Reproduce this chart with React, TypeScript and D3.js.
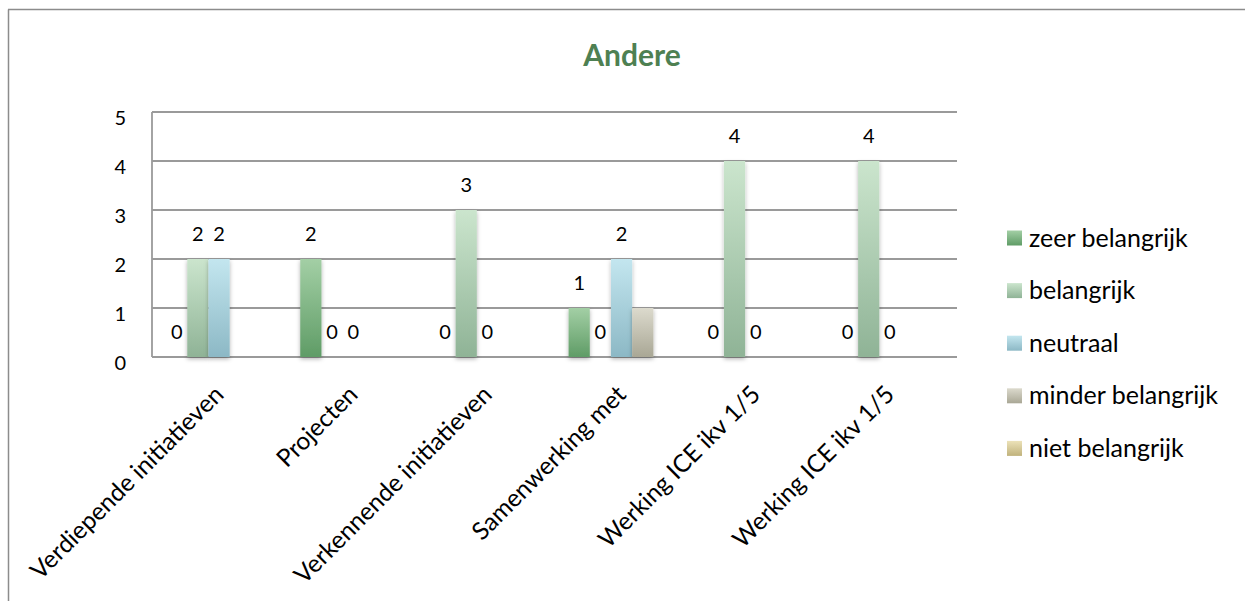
import React from "react";
import * as d3 from "d3";

const categories = [
  "Verdiepende initiatieven",
  "Projecten",
  "Verkennende initiatieven",
  "Samenwerking met",
  "Werking ICE ikv 1/5",
  "Werking ICE ikv 1/5 ",
];
const seriesNames = ["zeer belangrijk", "belangrijk", "neutraal", "minder belangrijk", "niet belangrijk"];
const zeerBelangrijk: (number | null)[] = [0, 2, 0, 1, 0, 0];
const belangrijk: (number | null)[] = [2, 0, 3, 0, 4, 4];
const neutraal: (number | null)[] = [2, 0, 0, 2, 0, 0];
const minderBelangrijk: (number | null)[] = [null, null, null, 1, null, null];
const nietBelangrijk: (number | null)[] = [null, null, null, null, null, null];
const showLabels = [true, true, true, false, false];
const yTicks = [0, 1, 2, 3, 4, 5];
const title = "Andere";

const seriesValues = [zeerBelangrijk, belangrijk, neutraal, minderBelangrijk, nietBelangrijk];
const gradients = [
  ["#a3cfa5", "#5f9c66"],
  ["#cbe5cd", "#8fb396"],
  ["#c3e6ef", "#8cb8c5"],
  ["#dcdacd", "#a9a795"],
  ["#ece2b8", "#c0b27c"],
];

const FONT = "Lato, 'Open Sans', sans-serif";

export default function App() {
  const W = 1245;
  const H = 601;
  const plot = { left: 152, right: 957, top: 112, bottom: 357 };

  const x0 = d3
    .scaleBand<string>()
    .domain(categories)
    .range([plot.left, plot.right])
    .paddingInner(0.21)
    .paddingOuter(0.105);
  const x1 = d3
    .scaleBand<string>()
    .domain(seriesNames)
    .range([0, x0.bandwidth()]);
  const y = d3.scaleLinear().domain([0, 5]).range([plot.bottom, plot.top]);

  const legendY0 = 238;
  const legendStep = 52.6;

  return (
    <svg
      width={W}
      height={H}
      style={{ position: "absolute", left: 0, top: 0, background: "#fff" }}
      fontFamily={FONT}
    >
      <defs>
        {gradients.map((g, i) => (
          <linearGradient key={i} id={`grad${i}`} x1="0" y1="0" x2="0" y2="1">
            <stop offset="0%" stopColor={g[0]} />
            <stop offset="100%" stopColor={g[1]} />
          </linearGradient>
        ))}
        <filter id="shadow" x="-50%" y="-10%" width="200%" height="130%">
          <feDropShadow dx="0" dy="2" stdDeviation="2.2" floodColor="#000" floodOpacity="0.3" />
        </filter>
      </defs>
      <rect x={0} y={0} width={W} height={H} fill="#fff" />
      {/* chart frame */}
      <line x1={8} x2={W} y1={9.5} y2={9.5} stroke="#8c8c8c" strokeWidth={1.5} />
      <line x1={8.5} x2={8.5} y1={9.5} y2={H} stroke="#8c8c8c" strokeWidth={1.5} />

      {/* title */}
      <text
        x={632}
        y={66}
        textAnchor="middle"
        fontSize={30}
        fontWeight="bold"
        fill="#4e8052"
      >
        {title}
      </text>

      {/* gridlines */}
      {yTicks.map((t) => (
        <line
          key={t}
          x1={plot.left}
          x2={plot.right}
          y1={y(t)}
          y2={y(t)}
          stroke="#9a9a9a"
          strokeWidth={1.8}
        />
      ))}
      <line x1={plot.left} x2={plot.left} y1={plot.top} y2={plot.bottom} stroke="#9a9a9a" strokeWidth={1.8} />

      {/* y tick labels */}
      {yTicks.map((t) => (
        <text
          key={t}
          x={126}
          y={y(t) + 5}
          textAnchor="end"
          dominantBaseline="central"
          fontSize={20}
          fill="#000"
        >
          {t}
        </text>
      ))}

      {/* bars */}
      {categories.map((c, ci) =>
        seriesNames.map((s, si) => {
          const v = seriesValues[si][ci];
          if (v === null || v === 0) return null;
          const bx = (x0(c) ?? 0) + (x1(s) ?? 0);
          return (
            <rect
              key={`${ci}-${si}`}
              x={bx}
              y={y(v)}
              width={x1.bandwidth()}
              height={y(0) - y(v)}
              fill={`url(#grad${si})`}
              filter="url(#shadow)"
            />
          );
        })
      )}

      {/* data labels */}
      {categories.map((c, ci) =>
        seriesNames.map((s, si) => {
          const v = seriesValues[si][ci];
          if (v === null || !showLabels[si]) return null;
          const cx = (x0(c) ?? 0) + (x1(s) ?? 0) + x1.bandwidth() / 2;
          return (
            <text
              key={`l${ci}-${si}`}
              x={cx}
              y={y(v) - 26}
              textAnchor="middle"
              dominantBaseline="central"
              fontSize={20}
              fill="#000"
            >
              {v}
            </text>
          );
        })
      )}

      {/* category labels */}
      {categories.map((c) => {
        const cx = (x0(c) ?? 0) + x0.bandwidth() / 2;
        const ax = cx + 6;
        const ay = 396;
        return (
          <text
            key={c}
            x={ax}
            y={ay}
            textAnchor="end"
            fontSize={24.5}
            fill="#000"
            transform={`rotate(-45 ${ax} ${ay})`}
          >
            {c.trim()}
          </text>
        );
      })}

      {/* legend */}
      {seriesNames.map((s, i) => {
        const cy = legendY0 + i * legendStep;
        return (
          <g key={s}>
            <rect x={1007} y={cy - 7.5} width={15} height={15} fill={`url(#grad${i})`} />
            <text x={1029} y={cy + 8.5} fontSize={25} fill="#000">
              {s}
            </text>
          </g>
        );
      })}
    </svg>
  );
}
